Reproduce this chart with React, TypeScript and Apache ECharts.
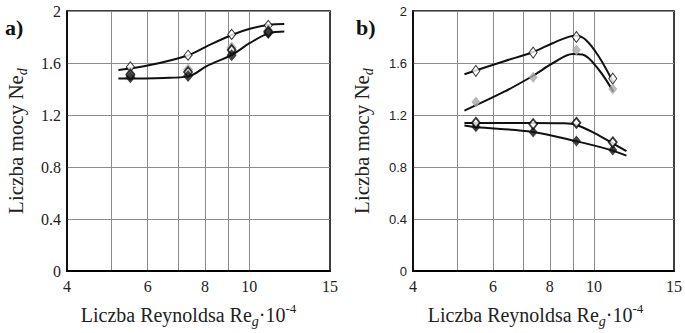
import React, { useEffect, useRef } from "react";
import * as echarts from "echarts";

// Reynolds number (x 10^-4) of the measured points
const RE_POINTS = [5.5, 7.35, 9.15, 11.0];
const X_LABELS = [4, 6, 8, 10, 15];
const X_GRID = [5, 6, 7, 8, 9, 10];

// Panel a) measured power numbers
const A_OPEN_UPPER = [1.57, 1.66, 1.82, 1.89];
const A_GRAY = [1.52, 1.55, 1.72, 1.85];
const A_OPEN_LOWER = [1.51, 1.53, 1.7, 1.84];
const A_BLACK = [1.49, 1.5, 1.66, 1.83];

// Panel a) fitted curves (read along the drawn lines)
const A_CURVE1_X = [5.18, 6.07, 7.36, 8.07, 9.18, 10.03, 11.04, 11.92];
const A_CURVE1_Y = [1.546, 1.584, 1.66, 1.728, 1.817, 1.863, 1.894, 1.9];
const A_CURVE2_X = [5.18, 6.5, 7.36, 8.07, 9.18, 10.03, 11.04, 11.92];
const A_CURVE2_Y = [1.48, 1.485, 1.497, 1.576, 1.665, 1.754, 1.83, 1.843];

// Panel b) measured power numbers
const B_OPEN_UPPER = [1.54, 1.68, 1.8, 1.48];
const B_GRAY = [1.3, 1.49, 1.7, 1.4];
const B_OPEN_LOWER = [1.14, 1.13, 1.14, 0.99];
const B_BLACK = [1.11, 1.07, 1.0, 0.93];

// Panel b) fitted curves
const B_CURVE1_X = [5.19, 6.35, 7.33, 8.13, 8.83, 9.13, 9.59, 10.24, 11.03];
const B_CURVE1_Y = [1.513, 1.614, 1.683, 1.754, 1.803, 1.81, 1.779, 1.652, 1.45];
const B_CURVE2_X = [5.19, 6.35, 7.33, 8.13, 8.98, 9.44, 10.24, 11.03];
const B_CURVE2_Y = [1.234, 1.379, 1.5, 1.6, 1.67, 1.665, 1.55, 1.379];
const B_CURVE3_X = [5.19, 7.33, 8.55, 9.13, 10.08, 10.91, 11.79];
const B_CURVE3_Y = [1.138, 1.138, 1.136, 1.125, 1.057, 0.989, 0.922];
const B_CURVE4_X = [5.19, 5.49, 7.33, 9.13, 10.91, 11.79];
const B_CURVE4_Y = [1.12, 1.108, 1.07, 0.999, 0.93, 0.887];

const SERIF = "'Liberation Serif', 'Times New Roman', 'DejaVu Serif', serif";
const SANS = "'Liberation Sans', Arial, sans-serif";

const zip = (xs: number[], ys: number[]) => xs.map((x, i) => [x, ys[i]]);

const openSym = { color: "#fff", borderColor: "#000", borderWidth: 1 };
const openBold = { color: "#fff", borderColor: "#000", borderWidth: 1.8 };

function curve(idx: number, xs: number[], ys: number[]) {
  return {
    type: "line",
    xAxisIndex: idx,
    yAxisIndex: idx,
    data: zip(xs, ys),
    smooth: 0.35,
    showSymbol: false,
    lineStyle: { color: "#111", width: 2 },
    z: 3,
  };
}

function marks(idx: number, ys: number[], style: any, size: number[], z: number) {
  return {
    type: "scatter",
    xAxisIndex: idx,
    yAxisIndex: idx,
    data: zip(RE_POINTS, ys),
    symbol: "diamond",
    symbolSize: size,
    itemStyle: style,
    z,
  };
}

function xAxis(idx: number, shift: number) {
  return {
    type: "log",
    gridIndex: idx,
    min: 4,
    max: 15,
    logBase: 10,
    axisLine: { show: true, lineStyle: { color: "#000", width: 2 } },
    axisTick: { show: false, customValues: X_GRID },
    axisLabel: {
      customValues: X_LABELS,
      fontFamily: SERIF,
      fontSize: 16,
      color: "#222",
      margin: 7,
    },
    splitLine: { show: true, lineStyle: { color: "#8c8c8c", width: 1 } },
    minorSplitLine: { show: false },
    name: "Liczba Reynoldsa Re{sub|g}·10{sup|-4}",
    nameLocation: "middle",
    nameGap: 31,
    nameTextStyle: {
      fontFamily: SERIF,
      fontSize: 20,
      color: "#222",
      lineHeight: 26,
      padding: [0, shift, 0, 0],
      rich: {
        sub: { fontFamily: SERIF, fontStyle: "italic", fontSize: 14, lineHeight: 14, verticalAlign: "bottom", color: "#222" },
        sup: { fontFamily: SERIF, fontSize: 13, lineHeight: 13, verticalAlign: "top", color: "#222" },
      },
    },
  };
}

function yAxis(idx: number, font: string, size: number) {
  return {
    type: "value",
    gridIndex: idx,
    min: 0,
    max: 2,
    interval: 0.4,
    axisLine: { show: true, lineStyle: { color: "#000", width: 1.5 } },
    axisTick: { show: false },
    axisLabel: { fontFamily: font, fontSize: size, color: "#222", margin: 6 },
    splitLine: { show: true, lineStyle: { color: "#8c8c8c", width: 1 } },
    name: "Liczba mocy Ne{sub|d}",
    nameLocation: "middle",
    nameRotate: 90,
    nameGap: 38,
    nameTextStyle: {
      fontFamily: SERIF,
      fontSize: 21,
      color: "#222",
      lineHeight: 26,
      rich: {
        sub: { fontFamily: SERIF, fontStyle: "italic", fontSize: 14, lineHeight: 14, verticalAlign: "bottom", color: "#222" },
      },
    },
  };
}

export default function App() {
  const ref = useRef<HTMLDivElement>(null);
  useEffect(() => {
    if (!ref.current) return;
    const chart = echarts.init(ref.current, null, { renderer: "svg" });
    chart.setOption({
      animation: false,
      backgroundColor: "#fff",
      textStyle: { fontFamily: SERIF },
      grid: [
        { left: 67, right: 355, top: 11, bottom: 59, show: true, borderColor: "#000", borderWidth: 1.5 },
        { left: 413, right: 5, top: 11, bottom: 59, show: true, borderColor: "#000", borderWidth: 1.5 },
      ],
      xAxis: [xAxis(0, 20), xAxis(1, 16)],
      yAxis: [yAxis(0, SERIF, 16), yAxis(1, SANS, 13)],
      graphic: [
        { type: "text", left: 5, top: 16, style: { text: "a)", fontFamily: SERIF, fontSize: 22, fontWeight: "bold", fill: "#111" } },
        { type: "text", left: 356, top: 16, style: { text: "b)", fontFamily: SERIF, fontSize: 22, fontWeight: "bold", fill: "#111" } },
      ],
      series: [
        curve(0, A_CURVE1_X, A_CURVE1_Y),
        curve(0, A_CURVE2_X, A_CURVE2_Y),
        marks(0, A_OPEN_UPPER, openSym, [8, 10], 5),
        marks(0, A_GRAY, { color: "#a8a8a8" }, [10, 12], 5),
        marks(0, A_OPEN_LOWER, openBold, [8, 10], 6),
        marks(0, A_BLACK, { color: "#111" }, [10, 12], 7),
        curve(1, B_CURVE1_X, B_CURVE1_Y),
        curve(1, B_CURVE2_X, B_CURVE2_Y),
        curve(1, B_CURVE3_X, B_CURVE3_Y),
        curve(1, B_CURVE4_X, B_CURVE4_Y),
        marks(1, B_OPEN_UPPER, openSym, [8, 11], 5),
        marks(1, B_GRAY, { color: "#a8a8a8" }, [9, 11], 5),
        marks(1, B_BLACK, { color: "#111" }, [9, 11], 6),
        marks(1, B_OPEN_LOWER, openBold, [8, 10], 7),
      ],
    });
    return () => chart.dispose();
  }, []);
  return (
    <div
      ref={ref}
      style={{ position: "fixed", left: 0, top: 0, width: 685, height: 333, background: "#fff" }}
    />
  );
}
